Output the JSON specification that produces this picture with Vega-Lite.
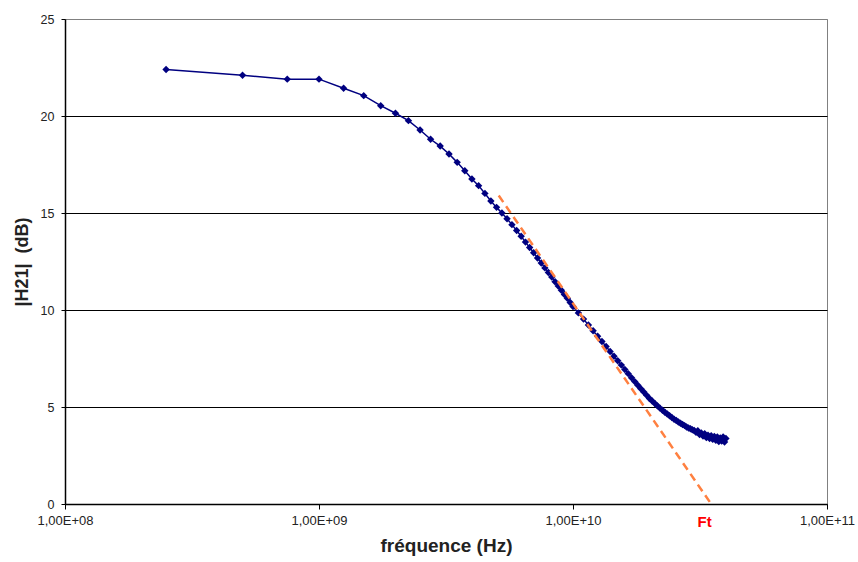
{
  "$schema": "https://vega.github.io/schema/vega-lite/v6.json",
  "width": 762,
  "height": 485,
  "autosize": {"type": "none"},
  "padding": {"left": 65, "top": 19, "right": 31, "bottom": 58},
  "background": "white",
  "config": {"view": {"stroke": "#808080", "strokeWidth": 1}, "font": "Liberation Sans"},
  "datasets": {
    "meas": [
      {"f": 2.5e8, "db": 22.4}, {"f": 5e8, "db": 22.1}, {"f": 7.5e8, "db": 21.9}, {"f": 1e9, "db": 21.9},
      {"f": 1.25e9, "db": 21.43}, {"f": 1.5e9, "db": 21.05}, {"f": 1.75e9, "db": 20.53}, {"f": 2e9, "db": 20.14},
      {"f": 2.25e9, "db": 19.76}, {"f": 2.5e9, "db": 19.28}, {"f": 2.75e9, "db": 18.8}, {"f": 3e9, "db": 18.45},
      {"f": 3.25e9, "db": 18.04}, {"f": 3.5e9, "db": 17.61}, {"f": 3.75e9, "db": 17.18}, {"f": 4e9, "db": 16.75},
      {"f": 4.25e9, "db": 16.41}, {"f": 4.5e9, "db": 16.01}, {"f": 4.75e9, "db": 15.62}, {"f": 5e9, "db": 15.29},
      {"f": 5.25e9, "db": 15.0}, {"f": 5.5e9, "db": 14.7}, {"f": 5.75e9, "db": 14.4}, {"f": 6e9, "db": 14.1},
      {"f": 6.25e9, "db": 13.8}, {"f": 6.5e9, "db": 13.5}, {"f": 6.75e9, "db": 13.22}, {"f": 7e9, "db": 12.95},
      {"f": 7.25e9, "db": 12.68}, {"f": 7.5e9, "db": 12.42}, {"f": 7.75e9, "db": 12.17}, {"f": 8e9, "db": 11.93},
      {"f": 8.25e9, "db": 11.7}, {"f": 8.5e9, "db": 11.46}, {"f": 8.75e9, "db": 11.24}, {"f": 9e9, "db": 11.02},
      {"f": 9.25e9, "db": 10.8}, {"f": 9.5e9, "db": 10.6}, {"f": 9.75e9, "db": 10.39}, {"f": 1e10, "db": 10.18},
      {"f": 1.05e10, "db": 9.85}, {"f": 1.1e10, "db": 9.53}, {"f": 1.15e10, "db": 9.23}, {"f": 1.2e10, "db": 8.93},
      {"f": 1.25e10, "db": 8.65}, {"f": 1.3e10, "db": 8.38}, {"f": 1.35e10, "db": 8.12}, {"f": 1.4e10, "db": 7.86},
      {"f": 1.45e10, "db": 7.62}, {"f": 1.5e10, "db": 7.38}, {"f": 1.55e10, "db": 7.16}, {"f": 1.6e10, "db": 6.93},
      {"f": 1.65e10, "db": 6.72}, {"f": 1.7e10, "db": 6.51}, {"f": 1.75e10, "db": 6.31}, {"f": 1.8e10, "db": 6.12},
      {"f": 1.85e10, "db": 5.94}, {"f": 1.9e10, "db": 5.77}, {"f": 1.95e10, "db": 5.6}, {"f": 2e10, "db": 5.44},
      {"f": 2.05e10, "db": 5.31}, {"f": 2.1e10, "db": 5.18}, {"f": 2.15e10, "db": 5.06}, {"f": 2.2e10, "db": 4.94},
      {"f": 2.25e10, "db": 4.83}, {"f": 2.3e10, "db": 4.73}, {"f": 2.35e10, "db": 4.64}, {"f": 2.4e10, "db": 4.55},
      {"f": 2.45e10, "db": 4.46}, {"f": 2.5e10, "db": 4.37}, {"f": 2.55e10, "db": 4.3}, {"f": 2.6e10, "db": 4.23},
      {"f": 2.65e10, "db": 4.16}, {"f": 2.7e10, "db": 4.1}, {"f": 2.75e10, "db": 4.04}, {"f": 2.8e10, "db": 3.97},
      {"f": 2.85e10, "db": 3.92}, {"f": 2.9e10, "db": 3.88}, {"f": 2.95e10, "db": 3.83}, {"f": 3e10, "db": 3.79},
      {"f": 3.05e10, "db": 3.7}, {"f": 3.1e10, "db": 3.78}, {"f": 3.15e10, "db": 3.58}, {"f": 3.2e10, "db": 3.66},
      {"f": 3.25e10, "db": 3.5}, {"f": 3.3e10, "db": 3.62}, {"f": 3.35e10, "db": 3.42}, {"f": 3.4e10, "db": 3.55},
      {"f": 3.45e10, "db": 3.38}, {"f": 3.5e10, "db": 3.52}, {"f": 3.55e10, "db": 3.33}, {"f": 3.6e10, "db": 3.48},
      {"f": 3.65e10, "db": 3.28}, {"f": 3.7e10, "db": 3.45}, {"f": 3.75e10, "db": 3.22}, {"f": 3.8e10, "db": 3.4},
      {"f": 3.85e10, "db": 3.25}, {"f": 3.9e10, "db": 3.46}, {"f": 3.95e10, "db": 3.2}, {"f": 4e10, "db": 3.38}
    ],
    "fit": [{"f": 5.1e9, "db": 15.9}, {"f": 3.5e10, "db": 0}],
    "ft": [{"f": 3.3e10, "db": 0, "label": "Ft"}]
  },
  "layer": [
    {
      "data": {"name": "meas"},
      "mark": {"type": "line", "color": "#000080", "strokeWidth": 1.5,
               "point": {"filled": true, "shape": "diamond", "size": 55, "color": "#000080"}},
      "encoding": {
        "x": {"field": "f", "type": "quantitative",
              "scale": {"type": "log", "domain": [1e8, 1e11], "nice": false},
              "axis": {"values": [1e8, 1e9, 1e10, 1e11],
                       "labelExpr": "'1,00E+' + (round(log(datum.value)/LN10) < 10 ? '0' : '') + round(log(datum.value)/LN10)",
                       "title": "fréquence (Hz)", "grid": false,
                       "domainColor": "black", "domainWidth": 1.5,
                       "tickColor": "black", "tickSize": 5, "tickWidth": 1,
                       "labelFontSize": 13, "labelColor": "#222222", "labelPadding": 5, "labelFlush": false,
                       "titleFontSize": 19, "titleFontWeight": "bold", "titleColor": "#222222", "titlePadding": 9}},
        "y": {"field": "db", "type": "quantitative",
              "scale": {"domain": [0, 25], "nice": false},
              "axis": {"values": [0, 5, 10, 15, 20, 25],
                       "title": "|H21|\u00a0\u00a0(dB)",
                       "grid": true,
                       "gridColor": {"condition": {"test": "datum.value == 25", "value": "#808080"}, "value": "black"},
                       "gridWidth": 1.2,
                       "domainColor": "black", "domainWidth": 1.5,
                       "tickColor": "black", "tickSize": 4,
                       "labelFontSize": 12.5, "labelColor": "#222222", "labelPadding": 7,
                       "titleFontSize": 18, "titleFontWeight": "bold", "titleColor": "#222222", "titlePadding": 9}}
      }
    },
    {
      "data": {"name": "fit"},
      "mark": {"type": "line", "color": "#FF8040", "strokeWidth": 2.5, "strokeDash": [8, 5]},
      "encoding": {
        "x": {"field": "f", "type": "quantitative"},
        "y": {"field": "db", "type": "quantitative"}
      }
    },
    {
      "data": {"name": "ft"},
      "mark": {"type": "text", "color": "#FF0000", "fontWeight": "bold", "fontSize": 15, "dy": 18, "baseline": "middle"},
      "encoding": {
        "x": {"field": "f", "type": "quantitative"},
        "y": {"field": "db", "type": "quantitative"},
        "text": {"field": "label"}
      }
    }
  ]
}
